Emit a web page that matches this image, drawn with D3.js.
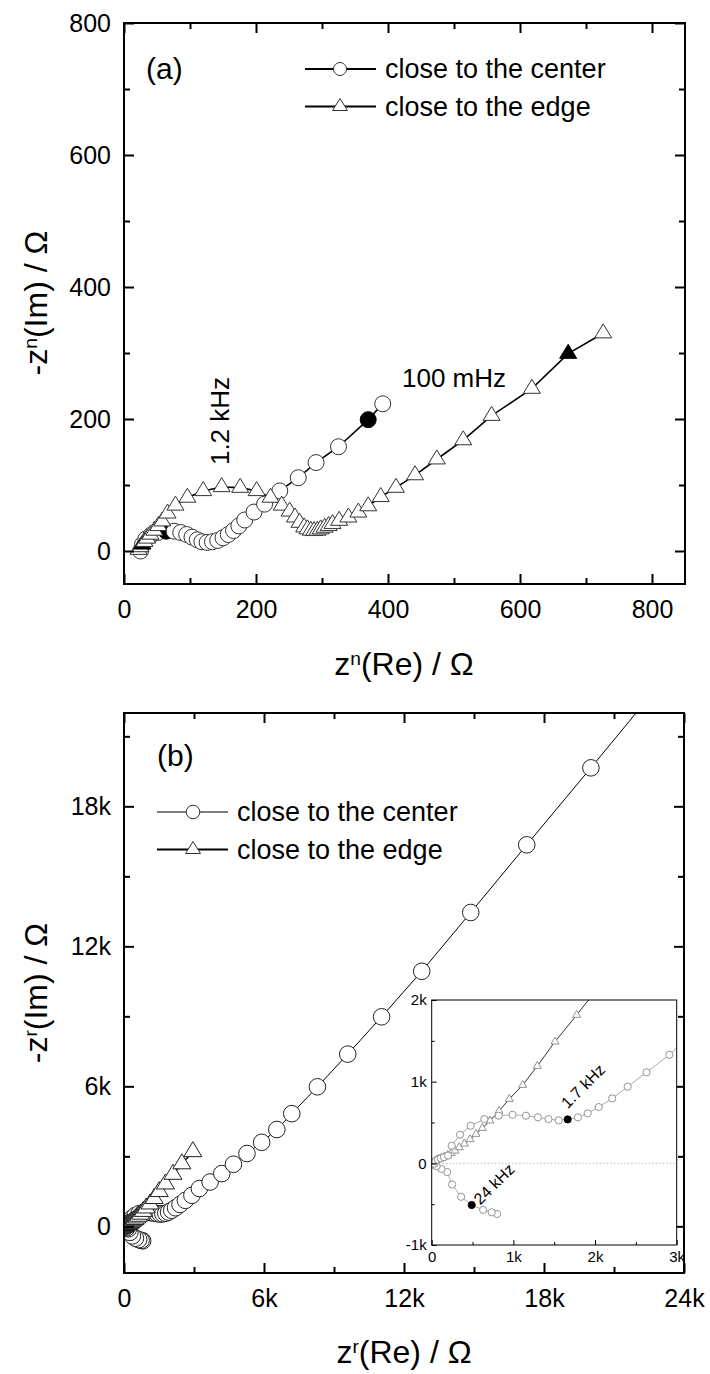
<!DOCTYPE html>
<html><head><meta charset="utf-8">
<script src="https://cdn.jsdelivr.net/npm/d3@7"></script>
<style>body{margin:0;background:#fff} svg text{font-family:"Liberation Sans",Arial,sans-serif}</style>
</head><body><svg id="c" width="710" height="1374"></svg>
<script>
// ---------- data ----------
// panel (a): Nyquist, ohm
const aCenterX = [25,28,33,41,51,64,76,86,95,103,111,118,126,134,142,150,158,166,174,183,197,213,236,264,291,325,370,392];
const aCenterY = [0,10,18,24,28,30,30,28,25,21,17,14,13,14,16,20,25,31,38,47,59,71,91,111,134,158,199,223];
const aCenterFilled = [5,26];
const aEdgeX = [22,25,28,31,35,40,46,52,58,66,78,96,120,148,176,201,222,239,251,259,266,273,278,283,288,293,298,304,310,316,326,340,355,370,389,412,441,474,514,557,618,673,726];
const aEdgeY = [2,6,10,14,19,25,31,38,45,57,69,81,91,97,96,91,81,69,60,51,43,36,33,31,30.5,31,33,35.5,38,41,46,51,58.5,68,82,96,115,139,168,205,246,299,330];
const aEdgeFilled = [2,41];
// panel (b)
const bCenterX = [800,735,630,490,360,250,190,120,60,30,45,75,110,150,200,245,347,477,645,820,990,1155,1300,1430,1555,1665,1790,1910,2045,2210,2400,2630,2910,3230,3690,4190,4690,5270,5900,6550,7190,8290,9590,11040,12760,14860,17260,20010,23100];
const bCenterY = [-620,-600,-570,-510,-410,-260,-107,-70,-35,-5,25,45,60,75,95,216,350,460,542,583,595,583,563,542,526,538,563,612,689,795,938,1114,1330,1620,1900,2260,2660,3120,3600,4150,4830,5980,7380,8980,10930,13450,16350,19650,23400];
const bCenterFilled = [3,25];
const bEdgeX = [15,20,30,45,65,90,120,155,195,240,285,338,400,469,542,620,714,824,950,1114,1293,1510,1775,2100,2480,2950];
const bEdgeY = [-30,0,18,32,44,55,67,82,100,125,154,196,240,294,359,432,522,640,787,959,1191,1490,1816,2230,2680,3200];
const bEdgeFilled = [4];
// ticks
const aMajor = [0,200,400,600,800], aMinor = [100,300,500,700];
const bMajor = [0,6000,12000,18000,24000], bMinor = [3000,9000,15000,21000];
const bYMajor = [0,6000,12000,18000], bYMinor = [3000,9000,15000,21000];
const iXMajor = [0,1000,2000,3000], iXMinor = [500,1500,2500];
const iYMajor = [-1000,0,1000,2000], iYMinor = [-500,500,1500];
const seriesNames = ["close to the center","close to the edge"];

// ---------- drawing ----------
const FONT = '"Liberation Sans", Arial, sans-serif';
const svg = d3.select("#c");
svg.append("rect").attr("width",710).attr("height",1374).attr("fill","#fff");
const kfmt = d => d===0 ? "0" : (d/1000)+"k";
const tri = (w,h) => `M0,${-h*2/3}L${w/2},${h/3}L${-w/2},${h/3}Z`;

function axis(g, gen, tr, vals, size, fmt, pad, fs, sw){
  const a = g.append("g").attr("transform",tr)
    .call(gen.tickValues(vals).tickSizeInner(-size).tickSizeOuter(0).tickPadding(pad).tickFormat(fmt||""));
  a.select(".domain").remove();
  a.selectAll("line").attr("stroke","#000").attr("stroke-width",sw);
  a.selectAll("text").attr("font-size",fs).attr("font-family",FONT).attr("fill","#000");
  return a;
}
function frame(g, x, y, o){
  const [x0,x1]=x.range(), yb=y.range()[0], yt=y.range()[1];
  axis(g, d3.axisBottom(x), `translate(0,${yb})`, o.xMaj, o.maj, o.fmt, o.padX, o.fs, o.sw);
  axis(g, d3.axisBottom(x), `translate(0,${yb})`, o.xMin, o.min, null, 0, o.fs, o.sw);
  axis(g, d3.axisLeft(y), `translate(${x0},0)`, o.yMaj, o.maj, o.fmt, o.padY, o.fs, o.sw);
  axis(g, d3.axisLeft(y), `translate(${x0},0)`, o.yMin, o.min, null, 0, o.fs, o.sw);
  if(o.mirror){
    axis(g, d3.axisTop(x), `translate(0,${yt})`, o.xMaj, o.maj, null, 0, o.fs, o.sw);
    axis(g, d3.axisTop(x), `translate(0,${yt})`, o.xMin, o.min, null, 0, o.fs, o.sw);
    axis(g, d3.axisRight(y), `translate(${x1},0)`, o.yMaj, o.maj, null, 0, o.fs, o.sw);
    axis(g, d3.axisRight(y), `translate(${x1},0)`, o.yMin, o.min, null, 0, o.fs, o.sw);
  }
  g.append("rect").attr("x",x0).attr("y",yt).attr("width",x1-x0).attr("height",yb-yt)
    .attr("fill","none").attr("stroke","#000").attr("stroke-width",o.frameW);
}
function series(g, x, y, xs, ys, filled, o){
  const pts = xs.map((v,i)=>[x(v), y(ys[i]), filled.includes(i)]);
  g.append("path").attr("d", d3.line()(pts.map(p=>[p[0],p[1]])))
    .attr("fill","none").attr("stroke",o.line).attr("stroke-width",o.lw);
  g.selectAll(null).data(pts).join("path")
    .attr("transform",p=>`translate(${p[0]},${p[1]})`)
    .attr("d", o.shape)
    .attr("fill", p=>p[2]?o.fillc:"#fff")
    .attr("stroke", p=>p[2]?o.fillc:o.mk).attr("stroke-width",o.mw);
}
function xTitle(txt, sup, cx, cy, fs){
  const t = svg.append("text").attr("x",cx).attr("y",cy).attr("text-anchor","middle")
    .attr("font-size",fs).attr("font-family",FONT).attr("dy","0.35em");
  t.append("tspan").text(txt[0]);
  t.append("tspan").text(sup).attr("baseline-shift","super").attr("font-size",fs*0.6);
  t.append("tspan").text(txt[1]);
}
function yTitle(txt, sup, cx, cy, fs){
  const t = svg.append("text").attr("transform",`translate(${cx},${cy}) rotate(-90)`).attr("text-anchor","middle")
    .attr("font-size",fs).attr("font-family",FONT).attr("dy","0.35em");
  t.append("tspan").text(txt[0]);
  t.append("tspan").text(sup).attr("baseline-shift","super").attr("font-size",fs*0.6);
  t.append("tspan").text(txt[1]);
}
function legendRow(g, x0, x1, mx, tx, y, shape, lw, label){
  g.append("line").attr("x1",x0).attr("x2",x1).attr("y1",y).attr("y2",y).attr("stroke","#000").attr("stroke-width",lw);
  g.append("path").attr("d",shape).attr("transform",`translate(${mx},${y})`).attr("fill","#fff").attr("stroke","#333").attr("stroke-width",1);
  g.append("text").attr("x",tx).attr("y",y).attr("dy","0.35em").attr("font-size",27).attr("font-family",FONT).text(label);
}

// ---- panel (a)
const xA = d3.scaleLinear([0,850],[124,685]);
const yA = d3.scaleLinear([-50,800],[584,23]);
const gA = svg.append("g");
series(gA, xA, yA, aCenterX, aCenterY, aCenterFilled, {line:"#000",lw:1.6,shape:d3.symbol(d3.symbolCircle, Math.PI*8*8)(),mk:"#333",mw:1,fillc:"#000"});
series(gA, xA, yA, aEdgeX, aEdgeY, aEdgeFilled, {line:"#000",lw:1.6,shape:tri(17,14),mk:"#333",mw:1,fillc:"#000"});
frame(gA, xA, yA, {xMaj:aMajor,xMin:aMinor,yMaj:aMajor,yMin:aMinor,fmt:d=>d,maj:10,min:6,padX:16,padY:13,fs:25,sw:2,frameW:2,mirror:true});
gA.append("text").attr("x",146).attr("y",68).attr("dy","0.35em").attr("font-size",30).attr("font-family",FONT).text("(a)");
legendRow(gA,305,376,340,385,69,d3.symbol(d3.symbolCircle,Math.PI*6.5*6.5)(),2,seriesNames[0]);
legendRow(gA,305,376,340,385,106.5,tri(15,12),2,seriesNames[1]);
gA.append("text").attr("transform","translate(220,421) rotate(-90)").attr("text-anchor","middle").attr("dy","0.35em")
  .attr("font-size",26).attr("font-family",FONT).text("1.2 kHz");
gA.append("text").attr("x",454).attr("y",378).attr("text-anchor","middle").attr("dy","0.35em")
  .attr("font-size",26).attr("font-family",FONT).text("100 mHz");
xTitle(["z","(Re) / Ω"],"n",404,664,32);
yTitle(["-z","(Im) / Ω"],"n",36,303,32);

// ---- panel (b)
const xB = d3.scaleLinear([0,24000],[124,684]);
const yB = d3.scaleLinear([-2000,22000],[1273,713]);
const gB = svg.append("g");
svg.append("clipPath").attr("id","clipB").append("rect").attr("x",124).attr("y",713).attr("width",560).attr("height",560);
const gBd = gB.append("g").attr("clip-path","url(#clipB)");
series(gBd, xB, yB, bCenterX, bCenterY, [], {line:"#000",lw:1,shape:d3.symbol(d3.symbolCircle, Math.PI*8.3*8.3)(),mk:"#222",mw:1,fillc:"#000"});
series(gBd, xB, yB, bEdgeX, bEdgeY, bEdgeFilled, {line:"#000",lw:1.5,shape:tri(18,15),mk:"#222",mw:1,fillc:"#000"});
frame(gB, xB, yB, {xMaj:bMajor,xMin:bMinor,yMaj:bYMajor,yMin:bYMinor,fmt:kfmt,maj:10,min:6,padX:16,padY:13,fs:25,sw:2,frameW:2,mirror:true});
gB.append("text").attr("x",157).attr("y",755).attr("dy","0.35em").attr("font-size",30).attr("font-family",FONT).text("(b)");
legendRow(gB,157,228,193,237,812,d3.symbol(d3.symbolCircle,Math.PI*6.8*6.8)(),1,seriesNames[0]);
legendRow(gB,157,228,193,237,849.5,tri(15,12),2,seriesNames[1]);
xTitle(["z","(Re) / Ω"],"r",404,1352,32);
yTitle(["-z","(Im) / Ω"],"r",36,993,32);

// ---- inset
const xI = d3.scaleLinear([0,3000],[431.7,676.7]);
const yI = d3.scaleLinear([-1000,2000],[1245,1000]);
const gI = svg.append("g");
gI.append("rect").attr("x",431.7).attr("y",1000).attr("width",245).attr("height",245).attr("fill","#fff");
svg.append("clipPath").attr("id","clipI").append("rect").attr("x",431.7).attr("y",1000).attr("width",245).attr("height",245);
const gId = gI.append("g").attr("clip-path","url(#clipI)");
gId.append("line").attr("x1",xI(0)).attr("x2",xI(3000)).attr("y1",yI(0)).attr("y2",yI(0))
  .attr("stroke","#bbb").attr("stroke-width",1).attr("stroke-dasharray","1.5,2");
series(gId, xI, yI, bEdgeX, bEdgeY, [], {line:"#333",lw:1,shape:tri(8,7),mk:"#888",mw:0.9,fillc:"#000"});
series(gId, xI, yI, bCenterX, bCenterY, bCenterFilled, {line:"#aaa",lw:1,shape:d3.symbol(d3.symbolCircle, Math.PI*3.6*3.6)(),mk:"#888",mw:0.9,fillc:"#000"});
frame(gI, xI, yI, {xMaj:iXMajor,xMin:iXMinor,yMaj:iYMajor,yMin:iYMinor,fmt:kfmt,maj:5,min:3,padX:6,padY:5,fs:15,sw:1,frameW:1,mirror:false});
gI.append("text").attr("transform","translate(583,1086) rotate(-45)").attr("text-anchor","middle").attr("dy","0.35em")
  .attr("font-size",16).attr("font-family",FONT).text("1.7 kHz");
gI.append("text").attr("transform","translate(494,1184) rotate(-45)").attr("text-anchor","middle").attr("dy","0.35em")
  .attr("font-size",16).attr("font-family",FONT).text("24 kHz");
</script></body></html>
